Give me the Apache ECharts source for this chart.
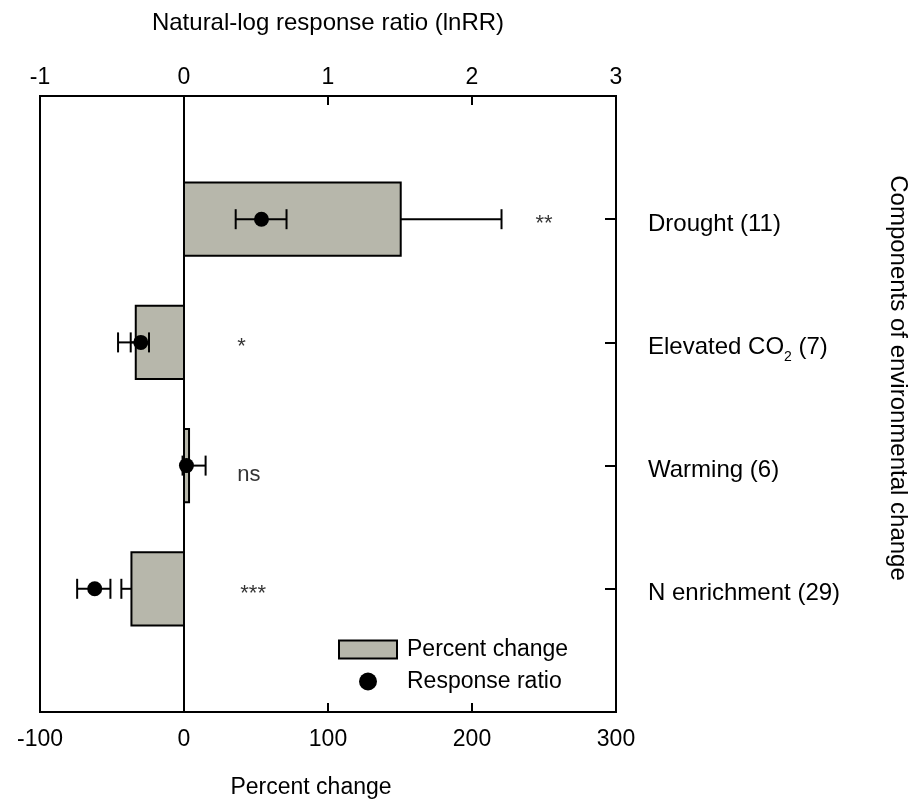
<!DOCTYPE html>
<html>
<head>
<meta charset="utf-8">
<script src="https://cdn.jsdelivr.net/npm/echarts@6/dist/echarts.min.js"></script>
<style>
  html, body { margin: 0; padding: 0; background: #fff; }
  #main { width: 920px; height: 805px; }
</style>
</head>
<body>
<div id="main"></div>
<script>
// categories, top to bottom, and where they sit on the 0..5 y scale
var categories = ['Drought (11)', 'Elevated CO2 (7)', 'Warming (6)', 'N enrichment (29)'];
var catPos = [4, 3, 2, 1];

// percent change (bars, bottom axis) and its one-sided error
var pctChange = [150.5, -33.5, 3.5, -36.5];
var pctErr = [70, 12.3, 0, 7];

// natural-log response ratio (dots, top axis) with CI ends
var lnRR = [0.538, -0.30, 0.017, -0.62];
var lnRRLow = [0.359, -0.37, -0.01, -0.742];
var lnRRHigh = [0.712, -0.243, 0.15, -0.511];

// significance marks and the percent-change x where they are written
var signif = ['**', '*', 'ns', '***'];
var signifX = [250, 40, 45, 48];

var font = 'Liberation Sans, Arial, sans-serif';
var barColor = '#b7b7ab';
var lineStyle = { stroke: '#000', lineWidth: 2 };

var chart = echarts.init(document.getElementById('main'));

chart.setOption({
  animation: false,
  textStyle: { fontFamily: font, color: '#000' },
  grid: {
    left: 40, right: 304, top: 96, bottom: 93,
    show: true, borderColor: '#000', borderWidth: 2, backgroundColor: 'transparent'
  },
  legend: {
    left: 333, top: 633, orient: 'vertical',
    itemWidth: 58, itemHeight: 18, itemGap: 9,
    textStyle: { fontFamily: font, fontSize: 23, color: '#000', lineHeight: 22, padding: [0, 0, 0, 5] },
    data: [
      { name: 'Percent change', icon: 'rect', itemStyle: { color: barColor, borderColor: '#000', borderWidth: 2 } },
      { name: 'Response ratio', icon: 'circle', itemStyle: { color: '#000' } }
    ]
  },
  xAxis: [
    {
      type: 'value', position: 'bottom', min: -100, max: 300, interval: 100,
      name: 'Percent change', nameLocation: 'middle', nameGap: 64,
      nameTextStyle: { fontFamily: font, fontSize: 23, color: '#000', padding: [0, 34, 0, 0] },
      axisLine: { show: true, onZero: false, lineStyle: { color: '#000', width: 2 } },
      axisTick: { show: true, inside: true, length: 9, lineStyle: { color: '#000', width: 2 } },
      axisLabel: { fontFamily: font, fontSize: 23, color: '#000', margin: 16 },
      splitLine: { show: false }
    },
    {
      type: 'value', position: 'top', min: -1, max: 3, interval: 1,
      name: 'Natural-log response ratio (lnRR)', nameLocation: 'middle', nameGap: 61,
      nameTextStyle: { fontFamily: font, fontSize: 24, color: '#000' },
      axisLine: { show: true, onZero: false, lineStyle: { color: '#000', width: 2 } },
      axisTick: { show: true, inside: true, length: 9, lineStyle: { color: '#000', width: 2 } },
      axisLabel: { fontFamily: font, fontSize: 23, color: '#000', margin: 7 },
      splitLine: { show: false }
    }
  ],
  yAxis: {
    type: 'value', position: 'right', min: 0, max: 5, interval: 1,
    axisLine: { show: true, onZero: false, lineStyle: { color: '#000', width: 2 } },
    axisTick: { show: true, inside: true, length: 11, lineStyle: { color: '#000', width: 2 } },
    axisLabel: {
      fontFamily: font, fontSize: 24, color: '#000', margin: 32, align: 'left',
      padding: [10, 0, 0, 0],
      formatter: function (v) {
        var i = catPos.indexOf(v);
        if (i < 0) return '';
        return categories[i].replace('CO2', 'CO{sub|2}');
      },
      rich: {
        sub: { fontFamily: font, fontSize: 14, color: '#000', padding: [19, 0, 0, 0] }
      }
    },
    splitLine: { show: false }
  },
  graphic: [{
    type: 'text', x: 898, y: 378, rotation: -Math.PI / 2,
    style: {
      text: 'Components of environmental change', fontFamily: font, fontSize: 24,
      fill: '#000', align: 'center', verticalAlign: 'middle'
    }
  }],
  series: [
    {
      name: 'Percent change', type: 'custom', xAxisIndex: 0, yAxisIndex: 0, z: 2,
      itemStyle: { color: barColor, borderColor: '#000', borderWidth: 2 },
      encode: { x: 0, y: 1 },
      data: pctChange.map(function (v, i) { return [v, catPos[i]]; }),
      renderItem: function (params, api) {
        var y = api.value(1);
        var a = api.coord([0, y]);
        var b = api.coord([api.value(0), y]);
        var h = api.size([0, 1])[1] * 0.595;
        return {
          type: 'rect',
          shape: { x: Math.min(a[0], b[0]), y: a[1] - h / 2, width: Math.abs(b[0] - a[0]), height: h },
          style: { fill: barColor, stroke: '#000', lineWidth: 2 }
        };
      },
      markLine: {
        silent: true, symbol: 'none', label: { show: false },
        lineStyle: { color: '#000', width: 2, type: 'solid' },
        data: [{ xAxis: 0 }]
      }
    },
    {
      type: 'custom', xAxisIndex: 0, yAxisIndex: 0, z: 3,
      encode: { x: [0, 2], y: 1 },
      data: pctChange.map(function (v, i) { return [v, catPos[i], pctErr[i]]; }),
      renderItem: function (params, api) {
        var v = api.value(0), y = api.value(1), se = api.value(2);
        if (!se) return;
        var tip = v >= 0 ? v + se : v - se;
        var p0 = api.coord([v, y]);
        var p1 = api.coord([tip, y]);
        return {
          type: 'group',
          children: [
            { type: 'line', shape: { x1: p0[0], y1: p0[1], x2: p1[0], y2: p1[1] }, style: lineStyle },
            { type: 'line', shape: { x1: p1[0], y1: p1[1] - 10, x2: p1[0], y2: p1[1] + 10 }, style: lineStyle }
          ]
        };
      }
    },
    {
      type: 'custom', xAxisIndex: 1, yAxisIndex: 0, z: 4,
      encode: { x: [0, 1], y: 2 },
      data: lnRR.map(function (v, i) { return [lnRRLow[i], lnRRHigh[i], catPos[i]]; }),
      renderItem: function (params, api) {
        var y = api.value(2);
        var p0 = api.coord([api.value(0), y]);
        var p1 = api.coord([api.value(1), y]);
        return {
          type: 'group',
          children: [
            { type: 'line', shape: { x1: p0[0], y1: p0[1], x2: p1[0], y2: p1[1] }, style: lineStyle },
            { type: 'line', shape: { x1: p0[0], y1: p0[1] - 10, x2: p0[0], y2: p0[1] + 10 }, style: lineStyle },
            { type: 'line', shape: { x1: p1[0], y1: p1[1] - 10, x2: p1[0], y2: p1[1] + 10 }, style: lineStyle }
          ]
        };
      }
    },
    {
      name: 'Response ratio', type: 'scatter', xAxisIndex: 1, yAxisIndex: 0, z: 5,
      symbol: 'circle', symbolSize: 15,
      itemStyle: { color: '#000', opacity: 1 },
      data: lnRR.map(function (v, i) { return [v, catPos[i]]; })
    },
    {
      type: 'scatter', xAxisIndex: 0, yAxisIndex: 0, z: 6, silent: true,
      symbolSize: 1, itemStyle: { color: 'transparent' },
      data: signif.map(function (s, i) { return [signifX[i], catPos[i]]; }),
      label: {
        show: true, position: 'inside', fontFamily: font, fontSize: 22, color: '#000',
        formatter: function (p) {
          return signif[p.dataIndex];
        }
      },
      labelLayout: function (p) {
        var dy = signif[p.dataIndex] === 'ns' ? 9 : 5;
        return { dy: dy };
      }
    }
  ]
});
</script>
</body>
</html>
